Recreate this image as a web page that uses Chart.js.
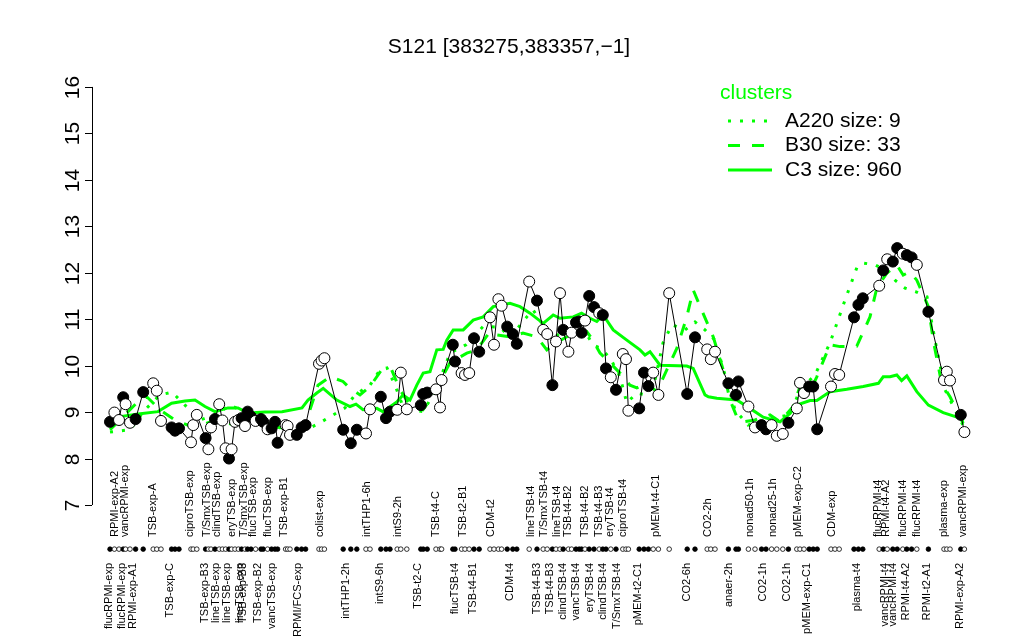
<!DOCTYPE html>
<html>
<head>
<meta charset="utf-8">
<script src="https://cdn.jsdelivr.net/npm/chart.js@4.4.1/dist/chart.umd.min.js"></script>
<style>
  body { margin: 0; background: #fff; }
  canvas { display: block; }
</style>
</head>
<body>
<canvas id="chart" width="1024" height="640"></canvas>
<script>
// sample positions (order along the x axis) and expression values
const samplePos = [
  2.5, 3.6, 4.75, 5.8, 6.4, 7.5, 8.9, 10.8, 13.3, 14.2, 15.25, 17.9, 18.75, 19.75,
  22.75, 23.3, 24.2, 26.4, 27.1, 27.75, 28.75, 29.8, 30.6, 31.4, 32.25, 32.9, 33.75,
  34.6, 35.4, 36.25, 36.9, 37.75, 38.9, 40.25, 40.8, 41.9, 42.9, 43.75, 44.4, 46.4,
  46.9, 47.5, 49.2, 50.4, 51.4, 54.75, 55.4, 56.1, 60.8, 62.7, 64.2, 66.5, 67.5,
  70.2, 71.5, 72.5, 74.3, 75.2, 76.7, 80.2, 80.8, 81.8, 84.0, 85.0, 85.4, 88.2,
  88.75, 90.4, 91.25, 92.3, 93.5, 94.8, 97.5, 98.5, 99.6, 100.4, 101.8, 103.2,
  104.2, 107.3, 109.25, 110.8, 111.8, 113.1, 114.0, 115.0, 115.8, 117.1, 117.9,
  119.0, 119.8, 120.4, 121.25, 122.3, 123.5, 124.8, 125.7, 126.5, 127.7, 129.0,
  130.7, 131.5, 132.1, 134.8, 136.0, 137.1, 138.3, 139.6, 142.3, 146.8, 148.75,
  151.8, 152.7, 153.75, 157.1, 159.0, 159.6, 162.1, 163.75, 165.4, 166.5, 167.9,
  169.2, 170.7, 172.1, 174.2, 175.0, 176.0, 177.3, 178.3, 179.3, 182.75, 183.75,
  184.8, 188.5, 189.6, 190.7, 194.8, 195.8, 196.8, 198.2, 199.3, 200.7, 201.7,
  202.9, 204.2, 207.1, 211.0, 211.7, 212.5, 215.2, 216.1
];
const sampleVal = [
  8.79, 8.99, 8.83, 9.32, 9.17, 8.77, 8.85, 9.43, 9.62, 9.46, 8.81, 8.67, 8.60, 8.65,
  8.35, 8.72, 8.94, 8.44, 8.20, 8.67, 8.85, 9.17, 8.82, 8.22, 8.00, 8.20, 8.79,
  8.83, 8.87, 8.70, 9.01, 8.90, 8.81, 8.85, 8.79, 8.63, 8.65, 8.79, 8.34, 8.72,
  8.70, 8.51, 8.51, 8.67, 8.72, 10.04, 10.11, 10.16, 8.62, 8.33, 8.62, 8.54, 9.06,
  9.33, 8.87, 9.01, 9.05, 9.85, 9.06, 9.15, 9.39, 9.42, 9.49, 9.10, 9.69, 10.45,
  10.09, 9.84, 9.80, 9.84, 10.59, 10.30, 11.04, 10.45, 11.43, 11.29, 10.84, 10.68,
  10.47, 11.81, 11.40, 10.77, 10.68, 9.58, 10.52, 11.56, 10.77, 10.30, 10.71,
  10.93, 10.95, 10.71, 10.97, 11.50, 11.26, 11.13, 11.09, 9.94, 9.75, 9.48,
  10.25, 10.14, 9.03, 9.08, 9.85, 9.56, 9.85, 9.37, 11.56, 9.39, 10.61,
  10.35, 10.14, 10.30, 9.62, 9.37, 9.66, 9.12, 8.67, 8.72, 8.63, 8.72,
  8.49, 8.53, 8.77, 9.08, 9.63, 9.41, 9.55, 9.55, 8.63, 9.55, 9.82,
  9.80, 11.04, 11.31, 11.45, 11.72, 12.05, 12.29, 12.24, 12.53, 12.41, 12.38,
  12.33, 12.17, 11.16, 9.69, 9.87, 9.68, 8.94, 8.57
];
// 1 = filled marker, 0 = open marker
const sampleFilled = [
  1, 0, 0, 1, 0, 0, 1, 1, 0, 0, 0, 1, 1, 1,
  0, 0, 0, 1, 0, 0, 1, 0, 0, 0, 1, 0, 0,
  0, 1, 0, 1, 1, 0, 1, 1, 0, 1, 1, 1, 0,
  0, 0, 1, 1, 1, 0, 0, 0, 1, 1, 1, 0, 0,
  1, 1, 1, 0, 0, 0, 1, 1, 1, 0, 0, 0, 1,
  1, 0, 0, 0, 1, 1, 0, 0, 0, 0, 1, 1,
  1, 0, 1, 0, 0, 1, 0, 0, 1, 0, 0,
  1, 1, 1, 0, 1, 1, 0, 1, 1, 0, 1,
  0, 0, 0, 1, 1, 1, 0, 0, 0, 1, 1,
  0, 0, 0, 1, 1, 1, 0, 0, 1, 1, 0,
  0, 0, 1, 0, 0, 0, 1, 1, 1, 0, 0,
  0, 1, 1, 1, 0, 1, 0, 1, 1, 0, 1,
  1, 0, 1, 0, 0, 0, 1, 0
];

// cluster means
const c3Pos = [
  2.5, 9.5, 14.5, 17.9, 21.25, 23.75, 26.25, 28.75, 32, 34.5, 37, 41.25, 45.5, 50.5,
  52, 54.2, 55.8, 59.2, 62.5, 64, 65.75, 69.2, 70.75, 74.2, 75.75, 77.5, 79.2, 80.8,
  82.5, 84.2, 85.8, 86.7, 88.3, 90.8, 93.3, 95.8, 98.3, 102.5, 105, 107.5, 110.8,
  113.3, 115, 118.3, 120.4, 122.5, 124.2, 125.8, 128.3, 131.7, 135, 136.25, 137.5,
  140, 146.7, 148.3, 151.25, 152.1, 154.2, 159.2, 162.5, 165.8, 170, 172.5, 174.2,
  177.5, 179.2, 182.5, 186.7, 190.8, 194.6, 195.8, 197.5, 199.2, 200.4, 201.7,
  204.2, 207.1, 210.8, 215, 216
];
const c3Val = [
  8.87, 8.96, 9.01, 9.19, 9.24, 9.26, 9.12, 9.01, 9.09, 9.09, 8.98, 9.00, 9.01, 9.09,
  9.26, 9.41, 9.51, 9.26, 9.12, 9.17, 9.05, 9.08, 9.01, 9.22, 9.37, 9.26, 9.58, 9.84,
  9.87, 10.34, 10.35, 10.55, 10.77, 10.77, 10.98, 11.05, 11.27, 11.34, 11.27, 11.13, 10.91,
  11.09, 11.02, 11.05, 11.13, 11.02, 10.95, 11.09, 10.77, 10.55, 10.34, 10.23, 10.30,
  10.01, 9.99, 9.94, 9.37, 9.33, 9.30, 9.26, 9.08, 8.89, 8.79, 8.97, 9.15,
  9.25, 9.25, 9.44, 9.49, 9.55, 9.62, 9.76, 9.76, 9.80, 9.68, 9.78,
  9.44, 9.15, 8.99, 8.87, 8.83
];
const b30Pos = [
  2.5, 5, 9.2, 11.7, 15, 18.75, 23.75, 28.75, 33.75, 37.5, 42.5, 47.5, 51.25, 54.5,
  57.5, 60.75, 62.5, 65, 67.5, 70.4, 72.9, 75, 77.5, 80.75, 82.5, 87.5, 91.7, 94.2,
  97.5, 99.2, 102.5, 105.75, 109.2, 111.7, 114, 117.5, 121.7, 122.9, 125, 127.5, 130,
  132.5, 134.2, 136.5, 139.2, 141.7, 144.2, 146.7, 148.3, 150.4, 153.3, 155.8, 157.5,
  159.2, 160.8, 163.75, 167.5, 170, 173.3, 175, 177.5, 179.2, 182.5, 185, 189.2,
  192.5, 194.2, 196.7, 199.2, 200.8, 202.5, 204.2, 207.1, 208.3, 210.4, 212.5, 215.8
];
const b30Val = [
  8.62, 8.83, 9.20, 9.33, 9.05, 8.83, 8.66, 8.83, 8.72, 8.87, 8.72, 8.62, 8.72, 9.58,
  9.76, 9.66, 9.51, 9.37, 9.55, 9.91, 9.91, 9.48, 9.15, 9.05, 9.26, 10.06, 10.27, 10.34,
  10.73, 10.66, 10.62, 10.70, 10.62, 10.34, 10.49, 10.66, 10.73, 10.59, 10.27, 10.06, 9.84,
  9.58, 9.52, 9.63, 9.44, 9.91, 10.37, 11.05, 11.63, 11.20, 10.62, 9.91, 9.26,
  8.90, 8.79, 8.83, 8.94, 8.79, 9.12, 9.55, 9.44, 9.76, 10.45, 10.41, 10.42,
  11.05, 11.67, 11.99, 12.17, 11.95, 12.02, 11.84, 11.27, 10.55, 9.62, 9.33, 8.76
];
const a220Pos = [
  2.5, 7.5, 11.25, 15, 18, 21.25, 25, 28.75, 32.5, 36.25, 40, 45, 50, 52.5, 55, 57.5,
  61.25, 63.75, 67.5, 70, 71.75, 73.75, 75.75, 78.25, 80.75, 84, 87.5, 91.5, 95.75,
  100, 102.5, 106.7, 108.25, 110.75, 113.25, 117.5, 121.5, 123.25, 125, 127.5, 130,
  131.7, 134.2, 136.5, 138.75, 140.75, 143, 146.25, 148.75, 151.25, 153.75, 156.25,
  158.75, 162, 167.5, 172.5, 175, 178.75, 182.5, 186.25, 189.25, 190.75, 193.75,
  196.25, 198.75, 201.25, 204, 206.75, 208.75, 211.25, 213.75, 215.75
];
const a220Val = [
  8.57, 8.62, 9.05, 9.37, 9.43, 9.15, 8.83, 8.94, 9.15, 9.00, 8.83, 8.66, 8.62, 8.66, 8.77, 8.90,
  9.09, 9.37, 9.58, 9.91, 9.95, 9.58, 9.12, 9.05, 9.01, 9.48, 10.27, 10.45, 10.84,
  10.83, 10.60, 11.05, 11.20, 10.88, 10.62, 10.77, 10.70, 10.45, 10.38, 10.17, 9.76,
  9.20, 9.41, 9.37, 9.69, 10.49, 10.88, 10.77, 10.94, 10.77, 10.55, 9.80,
  9.05, 8.72, 8.87, 8.94, 9.48, 9.80, 10.49, 11.41, 12.12, 12.21, 12.17,
  12.06, 11.84, 11.67, 11.59, 11.48, 10.55, 9.48, 9.05, 8.72
];

// axis labels
const yTicks = [7, 8, 9, 10, 11, 12, 13, 14, 15, 16];
const topLabelNames = [
  "RPMI-exp-A2", "vancRPMI-exp", "TSB-exp-A", "ciproTSB-exp", "T/SmxTSB-exp",
  "clindTSB-exp", "eryTSB-exp", "T/SmxTSB-exp", "flucTSB-exp", "flucTSB-exp",
  "TSB-exp-B1", "colist-exp", "intTHP1-6h", "intS9-2h", "TSB-t4-C", "TSB-t2-B1",
  "CDM-t2", "lineTSB-t4", "T/SmxTSB-t4", "lineTSB-t4", "TSB-t4-B2", "TSB-t4-B2",
  "TSB-t4-B3", "eryTSB-t4", "ciproTSB-t4", "pMEM-t4-C1", "CO2-2h", "nonad50-1h",
  "nonad25-1h", "pMEM-exp-C2", "CDM-exp", "flucRPMI-t4", "RPMI-t4-A2",
  "flucRPMI-t4", "flucRPMI-t4", "plasma-exp", "vancRPMI-exp"
];
const topLabelPos = [
  3.75, 6.25, 13.2, 22.5, 26.7, 29.3, 32.9, 36, 38.3, 42.1, 46, 55, 66.7, 74.6, 84,
  90.7, 97.75, 107.75, 111.1, 114.2, 117.1, 121.25, 124.8, 127.5, 130.7, 139, 152.1,
  162.5, 168.3, 174.4, 182.9, 194.6, 196.5, 200.7, 204.2, 211, 215.8
];
const bottomLabelNames = [
  "flucRPMI-exp", "flucRPMI-exp", "RPMI-exp-A1", "TSB-exp-C", "TSB-exp-B3",
  "lineTSB-exp", "lineTSB-exp", "lineTSB-exp", "TSB-exp-B3", "TSB-exp-B2",
  "vancTSB-exp", "RPMI/FCS-exp", "intTHP1-2h", "intS9-6h", "TSB-t2-C", "flucTSB-t4",
  "TSB-t4-B1", "CDM-t4", "TSB-t4-B3", "TSB-t4-B3", "clindTSB-t4", "vancTSB-t4",
  "eryTSB-t4", "clindTSB-t4", "T/SmxTSB-t4", "pMEM-t2-C1", "CO2-6h", "anaer-2h",
  "CO2-1h", "CO2-1h", "pMEM-exp-C1", "plasma-t4", "vancRPMI-t4", "vancRPMI-t4",
  "RPMI-t4-A2", "RPMI-t2-A1", "RPMI-exp-A2"
];
const bottomLabelPos = [
  2.3, 5.4, 8.3, 17.5, 26.25, 29, 31.7, 35, 35.8, 39.6, 42.9, 49.6, 61.5, 70, 79.6,
  88.75, 93.3, 102.5, 109.2, 112.5, 115.8, 119, 122.5, 125.8, 129.2, 134.6, 146.7,
  157.3, 165.8, 171.7, 176.8, 189.2, 196.25, 198.3, 201.5, 206.7, 215
];

const legendNames = ["A220 size: 9", "B30 size: 33", "C3 size: 960"];
const titleText = "S121 [383275,383357,\u22121]";

const GREEN = "#00ff00";
const FONT = "'Liberation Sans', Arial, sans-serif";
const dotRowValue = 6.05;   // level of the sample marker row under the axis

function toPoints(xs, ys) {
  return xs.map((x, i) => ({ x: x, y: ys[i] }));
}

const fills = sampleFilled.map(f => f ? "#000000" : "#ffffff");

const decorations = {
  id: "decorations",
  beforeDraw(chart) {
    const ctx = chart.ctx;
    ctx.save();
    ctx.fillStyle = "#ffffff";
    ctx.fillRect(0, 0, chart.width, chart.height);
    ctx.restore();
  },
  afterDraw(chart) {
    const ctx = chart.ctx;
    const xs = chart.scales.x;
    const ys = chart.scales.y;
    const axisX = chart.chartArea.left;
    ctx.save();

    // y axis
    ctx.strokeStyle = "#000";
    ctx.lineWidth = 1;
    ctx.beginPath();
    ctx.moveTo(axisX + 0.5, ys.getPixelForValue(yTicks[0]));
    ctx.lineTo(axisX + 0.5, ys.getPixelForValue(yTicks[yTicks.length - 1]));
    ctx.stroke();
    ctx.fillStyle = "#000";
    ctx.font = "21px " + FONT;
    ctx.textAlign = "center";
    ctx.textBaseline = "middle";
    yTicks.forEach(t => {
      const py = Math.round(ys.getPixelForValue(t)) + 0.5;
      ctx.beginPath();
      ctx.moveTo(axisX - 7, py);
      ctx.lineTo(axisX, py);
      ctx.stroke();
      ctx.save();
      ctx.translate(axisX - 19, py);
      ctx.rotate(-Math.PI / 2);
      ctx.fillText(String(t), 0, 0);
      ctx.restore();
    });

    // sample labels, two rows
    ctx.font = "11px " + FONT;
    ctx.textBaseline = "middle";
    topLabelNames.forEach((name, i) => {
      ctx.save();
      ctx.translate(xs.getPixelForValue(topLabelPos[i]), 537);
      ctx.rotate(-Math.PI / 2);
      ctx.textAlign = "left";
      ctx.fillText(name, 0, 0);
      ctx.restore();
    });
    bottomLabelNames.forEach((name, i) => {
      ctx.save();
      ctx.translate(xs.getPixelForValue(bottomLabelPos[i]), 563);
      ctx.rotate(-Math.PI / 2);
      ctx.textAlign = "right";
      ctx.fillText(name, 0, 0);
      ctx.restore();
    });

    // title
    ctx.font = "21px " + FONT;
    ctx.textAlign = "center";
    ctx.fillText(titleText, 509, 47);

    // legend
    ctx.textAlign = "left";
    ctx.fillStyle = GREEN;
    ctx.fillText("clusters", 720, 93);
    const dashes = [[3, 9], [12, 12], []];
    legendNames.forEach((name, i) => {
      const ly = 121 + i * 24.5;
      ctx.strokeStyle = GREEN;
      ctx.lineWidth = 3;
      ctx.setLineDash(dashes[i]);
      ctx.beginPath();
      ctx.moveTo(728, ly);
      ctx.lineTo(772, ly);
      ctx.stroke();
      ctx.setLineDash([]);
      ctx.fillStyle = "#000";
      ctx.fillText(name, 785, ly);
    });
    ctx.restore();
  }
};

new Chart(document.getElementById("chart"), {
  type: "scatter",
  data: {
    datasets: [
      {
        label: "samples",
        data: toPoints(samplePos, sampleVal),
        showLine: true,
        borderColor: "#000",
        borderWidth: 1,
        pointRadius: 5.5,
        pointBackgroundColor: fills,
        pointBorderColor: "#000",
        pointBorderWidth: 1
      },
      {
        label: "sample row",
        data: samplePos.map(x => ({ x: x, y: dotRowValue })),
        showLine: false,
        pointRadius: 2.3,
        pointBackgroundColor: fills,
        pointBorderColor: "#000",
        pointBorderWidth: 0.8
      },
      {
        label: "A220",
        data: toPoints(a220Pos, a220Val),
        showLine: true,
        borderColor: GREEN,
        borderWidth: 3,
        borderDash: [3, 9],
        pointRadius: 0
      },
      {
        label: "B30",
        data: toPoints(b30Pos, b30Val),
        showLine: true,
        borderColor: GREEN,
        borderWidth: 3,
        borderDash: [12, 12],
        pointRadius: 0
      },
      {
        label: "C3",
        data: toPoints(c3Pos, c3Val),
        showLine: true,
        borderColor: GREEN,
        borderWidth: 3,
        pointRadius: 0
      }
    ]
  },
  options: {
    responsive: false,
    animation: false,
    layout: { padding: { left: 92, right: 39, top: 73, bottom: 80 } },
    plugins: {
      legend: { display: false },
      tooltip: { enabled: false },
      title: { display: false }
    },
    scales: {
      x: { type: "linear", min: -2, max: 221.25, display: false },
      y: { type: "linear", min: 5.816, max: 16.3, display: false }
    }
  },
  plugins: [decorations]
});
</script>
</body>
</html>
